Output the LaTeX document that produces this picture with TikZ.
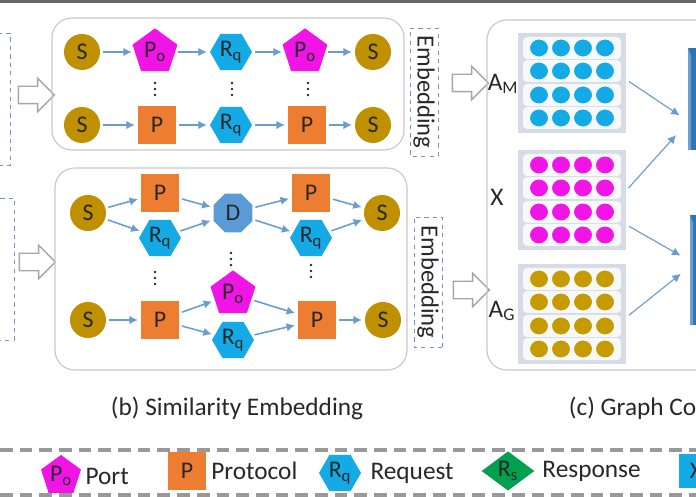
\documentclass[tikz,border=0pt]{standalone}
\usepackage{fontspec}
\setmainfont{Carlito}
\usetikzlibrary{shapes.geometric, shapes.arrows, arrows.meta, positioning, calc}
\definecolor{srvcol}{RGB}{191, 144, 0}
\definecolor{portcol}{RGB}{240, 20, 230}
\definecolor{protocol}{RGB}{237, 125, 49}
\definecolor{reqcol}{RGB}{20, 170, 230}
\definecolor{devcol}{RGB}{91, 155, 213}
\definecolor{respcol}{RGB}{0, 160, 80}
\definecolor{flowcol}{RGB}{106, 155, 209}
\definecolor{panelcol}{RGB}{200, 200, 200}
\definecolor{embcol}{RGB}{110, 150, 190}
\definecolor{matgray}{RGB}{214, 220, 229}
\definecolor{gcnblue}{RGB}{46, 117, 182}
\definecolor{txtcol}{RGB}{40, 40, 40}
\newcommand{\nodefont}{\fontsize{17}{20}\selectfont}
\newcommand{\capfont}{\fontsize{18}{21}\selectfont}
\tikzset{
    every node/.style={text=txtcol},
    srv/.style={circle, fill=srvcol, minimum size=.9cm, inner sep=0pt,
        font=\nodefont},
    port/.style={regular polygon, regular polygon sides=5, fill=portcol,
        minimum size=1.18cm, inner sep=0pt, font=\nodefont},
    proto/.style={rectangle, fill=protocol, minimum size=.95cm, inner sep=0pt,
        font=\nodefont},
    req/.style={regular polygon, regular polygon sides=6, fill=reqcol,
        minimum size=1.05cm, inner sep=0pt, font=\nodefont},
    dev/.style={regular polygon, regular polygon sides=8, fill=devcol,
        minimum size=1.05cm, inner sep=0pt, font=\nodefont},
    resp/.style={diamond, fill=respcol, minimum width=1.32cm,
        minimum height=.95cm, inner sep=0pt, font=\nodefont},
    flow/.style={-{Latex[length=6pt, width=6pt]}, draw=flowcol,
        line width=1.1pt, shorten >=2pt, shorten <=2pt},
    thin flow/.style={flow, line width=.8pt},
    bigarrow/.style={single arrow, draw=gray!70, fill=white, line width=1pt,
        minimum height=.9cm, inner sep=.2cm, single arrow head extend=.2cm},
    embbox/.style={draw=embcol, dashed, rotate=-90, minimum width=3.2cm,
        minimum height=.7cm, inner sep=0pt, font=\fontsize{17.5}{20}\selectfont},
    panel/.style={draw=panelcol, line width=.8pt, rounded corners=14pt},
    matbox/.style={fill=matgray, minimum width=2.72cm, minimum height=2.5cm,
        inner sep=0pt},
    vdot/.pic={
        \foreach \dy in {-6, 0, 6}
            \fill[txtcol] (0, \dy) circle (1.4);
    },
}

\begin{document}
\begin{tikzpicture}[x=.025cm, y=-.025cm]
    \useasboundingbox (0, 0) rectangle (696, 497);
    \clip (0, 0) rectangle (696, 497);
    \fill[white] (0, 0) rectangle (696, 497);
    \draw[gray!80!black, line width=2.5pt] (0, 1) -- (696, 1);

    % cut boxes at the left edge
    \draw[embcol, dashed] (-30, 33) rectangle (10, 165);
    \draw[embcol, dashed] (-30, 198) rectangle (14, 340);
    \node[bigarrow] (inA) at (32, 95) {};
    \node[bigarrow] (inB) at (33, 262) {};

    % (b) panels
    \draw[panel] (52, 18) rectangle (404, 150);
    \draw[panel] (55, 168) rectangle (407, 370);

    \node[srv] (s11) at (82, 52) {S};
    \node[port] (po11) at (155, 52) {P\textsubscript{o}};
    \node[req] (rq11) at (231, 52) {R\textsubscript{q}};
    \node[port] (po12) at (305, 52) {P\textsubscript{o}};
    \node[srv] (s12) at (373, 52) {S};
    \node[srv] (s21) at (82, 125) {S};
    \node[proto] (p21) at (157, 125) {P};
    \node[req] (rq21) at (231, 125) {R\textsubscript{q}};
    \node[proto] (p22) at (307, 125) {P};
    \node[srv] (s22) at (373, 125) {S};
    \foreach \x in {155, 232, 308}
        \pic at (\x, 89) {vdot};
    \foreach \a/\b in {s11/po11, po11/rq11, rq11/po12, po12/s12,
            s21/p21, p21/rq21, rq21/p22, p22/s22}
        \draw[flow] (\a) -- (\b);

    \node[srv] (sA) at (88, 213) {S};
    \node[proto] (pA) at (160, 193) {P};
    \node[req] (rA) at (160, 238) {R\textsubscript{q}};
    \node[dev] (dA) at (233, 213) {D};
    \node[proto] (pB) at (311, 193) {P};
    \node[req] (rB) at (311, 238) {R\textsubscript{q}};
    \node[srv] (sB) at (382, 213) {S};
    \node[srv] (sC) at (88, 320) {S};
    \node[proto] (pC) at (160, 320) {P};
    \node[port] (oC) at (233, 294) {P\textsubscript{o}};
    \node[req] (rC) at (233, 340) {R\textsubscript{q}};
    \node[proto] (pD) at (317, 320) {P};
    \node[srv] (sD) at (383, 320) {S};
    \foreach \x/\y in {155/278, 231/259, 311/271}
        \pic at (\x, \y) {vdot};
    \foreach \a/\b in {sA/pA, sA/rA, pA/dA, rA/dA, dA/pB, dA/rB, pB/sB, rB/sB,
            sC/pC, pC/oC, pC/rC, oC/pD, rC/pD, pD/sD}
        \draw[flow] (\a) -- (\b);

    \node[embbox] (embA) at (424, 92) {Embedding};
    \node[embbox, minimum width=3.25cm] (embB) at (428, 282) {Embedding};
    \node[bigarrow] (outA) at (466, 83) {};
    \node[bigarrow] (outB) at (467, 290) {};

    % (c) panel
    \draw[panel] (487, 20) rectangle (740, 370);
    \node[font=\capfont] (lAM) at (503, 84) {A\textsubscript{M}};
    \node[font=\capfont] (lX) at (497, 197) {X};
    \node[font=\capfont] (lAG) at (502, 311) {A\textsubscript{G}};
    \node[matbox] (mA) at (572, 83) {};
    \node[matbox] (mX) at (572, 200) {};
    \node[matbox] (mG) at (572, 314) {};
    \foreach \mname/\mcol in {mA/reqcol, mX/portcol, mG/srvcol!90!yellow}{
        \foreach \r in {-35, -12, 12, 35}{
            \fill[white!80!matgray, rounded corners=3pt]
                ([shift={(-49, \r-11)}]\mname.center) rectangle ++(98, 22);
            \foreach \c in {-33, -11, 11, 33}
                \filldraw[fill=\mcol, draw=white, line width=.6pt]
                    ([shift={(\c, \r)}]\mname.center) ellipse (9.5 and 9);
        }
    }

    \node[fill=gcnblue, minimum width=1cm, minimum height=2.55cm,
        anchor=west] (gcnA) at (688, 99) {};
    \node[fill=gcnblue, minimum width=1cm, minimum height=2.75cm,
        anchor=west] (gcnB) at (690, 270) {};
    \fill[gcnblue!70!white] (gcnA.north west) -- ++(3, 8) -- ++(0, 94)
        -- (gcnA.south west) -- cycle;
    \fill[gcnblue!70!white] (gcnB.north west) -- ++(3, 8) -- ++(0, 102)
        -- (gcnB.south west) -- cycle;
    \draw[thin flow] ([shift={(0, -3)}]mA.east)
        -- ([shift={(-6, 18)}]gcnA.west);
    \draw[thin flow] ([shift={(0, -10)}]mX.east)
        -- ([shift={(-10, 34)}]gcnA.west);
    \draw[thin flow] ([shift={(0, 25)}]mX.east)
        -- ([shift={(-7, -13)}]gcnB.west);
    \draw[thin flow] ([shift={(0, 3)}]mG.east)
        -- ([shift={(-7, 2)}]gcnB.west);

    % captions
    \node[font=\capfont, anchor=west] (capB) at (106, 408)
        {(b) Similarity Embedding};
    \node[font=\capfont, anchor=west] (capC) at (564, 408) {(c) Graph Con};

    % legend
    \draw[gray!80, line width=2.2pt, dash pattern=on 9pt off 5pt]
        (0, 450) -- (696, 450);
    \draw[gray!80, line width=2.2pt, dash pattern=on 9pt off 5pt]
        (0, 495) -- (696, 495);
    \node[port, minimum size=1.05cm] (lgPo) at (61, 476)
        {P\textsubscript{o}};
    \node[font=\capfont, right=1pt of lgPo] (lgPoT) {Port};
    \node[proto] (lgP) at (187, 471) {P};
    \node[font=\capfont, right=0pt of lgP] (lgPT) {Protocol};
    \node[req] (lgRq) at (340, 473) {R\textsubscript{q}};
    \node[font=\capfont, right=3pt of lgRq] (lgRqT) {Request};
    \node[resp] (lgRs) at (508, 471) {R\textsubscript{s}};
    \node[font=\capfont, right=2pt of lgRs] (lgRsT) {Response};
    \node[proto, fill=reqcol, minimum size=.85cm] (lgX) at (696, 471) {X};
\end{tikzpicture}
\end{document}
